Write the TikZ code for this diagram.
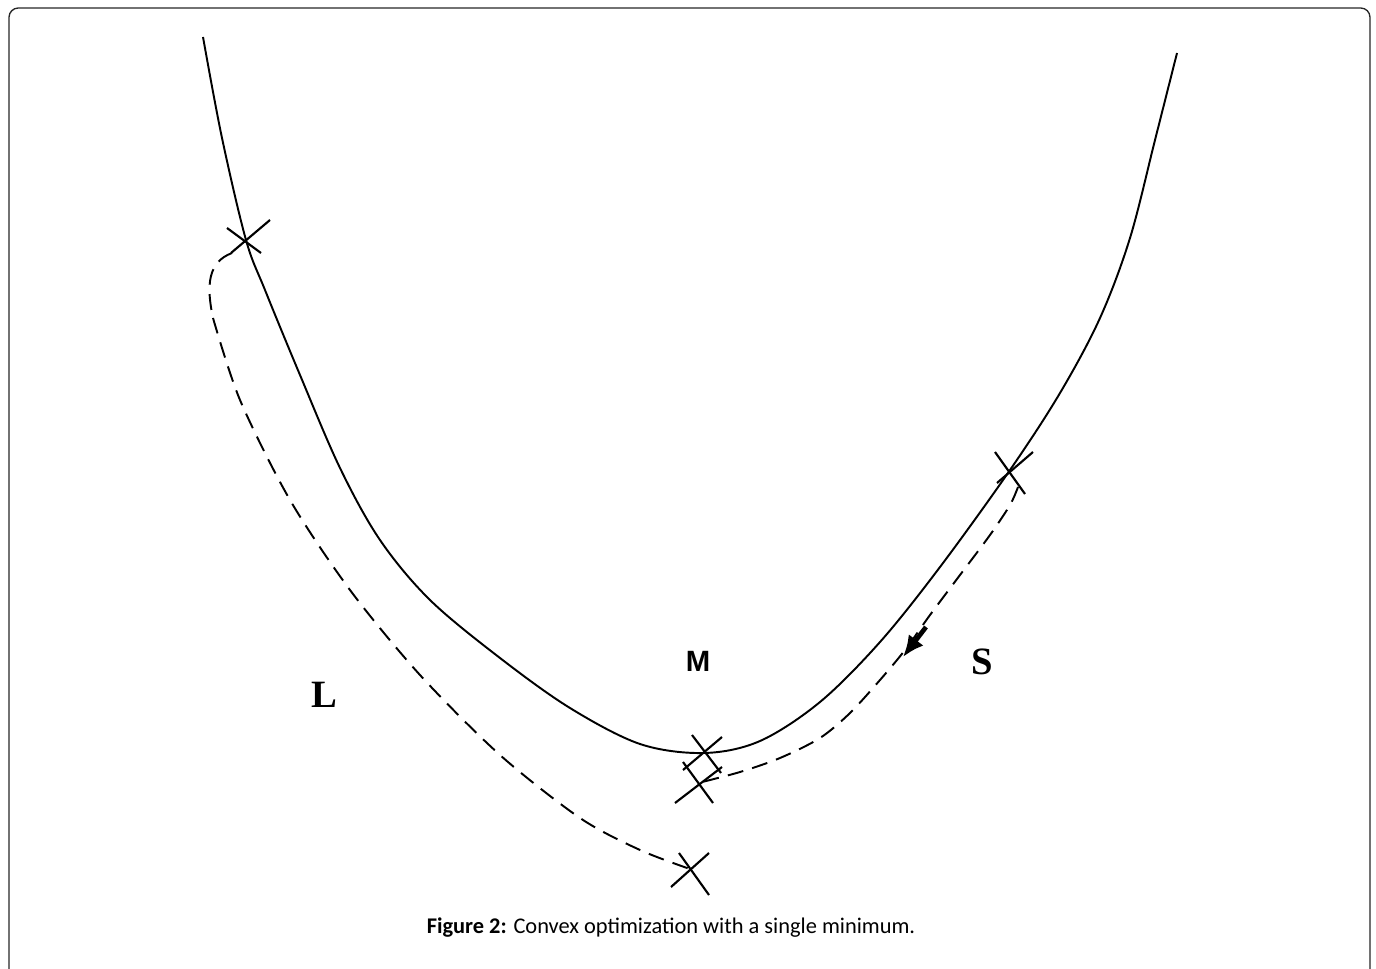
\documentclass[tikz,border=0pt]{standalone}
\usepackage{fontspec}
\setmainfont{Liberation Serif}
\newfontfamily\capfont{Carlito}
\newfontfamily\msans{Liberation Sans}
\usetikzlibrary{arrows.meta}
\begin{document}
\begin{tikzpicture}[x=0.75pt,y=-0.75pt,
  curve/.style={line width=1.45pt,line join=round},
  xarm/.style={line width=1.6pt},
  dpath/.style={line width=1.45pt,dash pattern=on 12pt off 7pt},
  lbl/.style={inner sep=0pt,font=\fontsize{29}{31}\selectfont\bfseries}]
\useasboundingbox (0,0) rectangle (1376,969);
% frame
\draw[line width=1pt,rounded corners=7pt,black!85] (9,972) -- (9,8) -- (1370,8) -- (1370,972);
% main curve
\draw[curve] plot[smooth,tension=0.55] coordinates {(203,37) (222,138) (246,240) (265,290) (300,375) (340,468) (380,540) (430,600) (500,658) (570,708) (640,744) (704,753) (760,741) (820,702) (880,642) (940,567) (1010,470) (1060,393) (1100,318) (1130,238) (1155,140) (1177,53)};
% cross centres
\coordinate (c1) at (247,242);
\coordinate (cm) at (703,753);
\coordinate (cl) at (698,783);
\coordinate (cs) at (1010,472);
\coordinate (cb) at (690,869);
% crosses
\draw[xarm] (c1) ++(-20,-14) -- ++(34,25);
\draw[xarm] (c1) ++(23,-22) -- ++(-39,33);
\draw[xarm] (cm) ++(-11,-18) -- ++(29,38);
\draw[xarm] (cm) ++(19,-16) -- ++(-39,33);
\draw[xarm] (cl) ++(-15,-21) -- ++(30,41);
\draw[xarm] (cl) ++(24,-16) -- ++(-47,36);
\draw[xarm] (cs) ++(-15,-20) -- ++(30,42);
\draw[xarm] (cs) ++(23,-20) -- ++(-36,31);
\draw[xarm] (cb) ++(-11,-16) -- ++(30,42);
\draw[xarm] (cb) ++(19,-16) -- ++(-38,34);
% dashed path L
\draw[dpath] (c1) ++(-15,11) .. controls (208,262) and (206,285) .. (213,318)
  plot[smooth,tension=0.5] coordinates {(213,318) (240,400) (290,500) (350,590) (420,675) (500,755) (580,818) (640,850) (690,869)};
% dashed path S
\draw[dpath] plot[smooth,tension=0.5] coordinates {(1018,487) (1010,505) (990,535) (960,575) (930,615) (905,650) (880,680) (850,713) (820,738) (780,758) (740,772) (698,783)};
% arrow
\draw[-{Latex[length=16pt,width=14pt]},line width=3.5pt] (926,627) -- (903,657);
% labels
\node[lbl] (L) at (324,695) {L};
\node[lbl,font=\msans\fontsize{22}{24}\selectfont\bfseries] (M) at (698,661) {M};
\node[lbl] (S) at (982,662) {S};
\node[inner sep=0pt] (cap) at (671,928) {\capfont\fontsize{16.8}{18}\selectfont\textbf{Figure 2:} Convex optimization with a single minimum.};
\end{tikzpicture}
\end{document}
